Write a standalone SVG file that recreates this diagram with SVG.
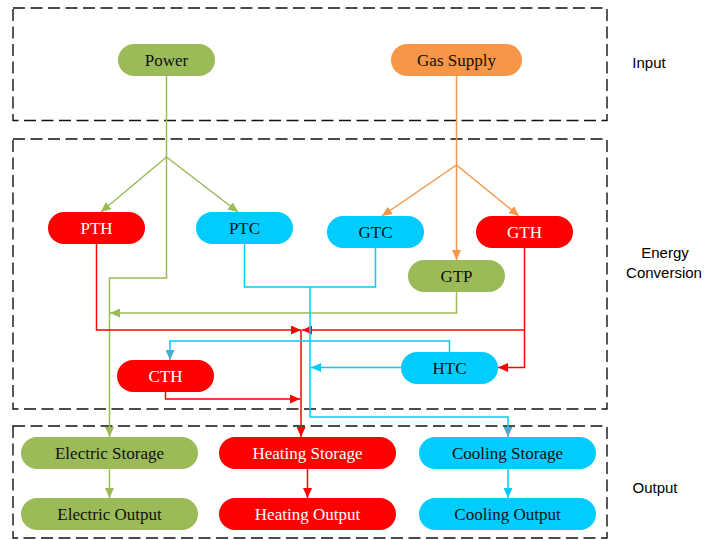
<svg xmlns="http://www.w3.org/2000/svg" width="706" height="540" viewBox="0 0 706 540">
<style>
.frame{fill:none;stroke:#111;stroke-width:1.4;stroke-dasharray:12 5.5}
.lbl{font-family:"Liberation Sans",Arial,sans-serif;font-size:15px;fill:#000}
.nt{font-family:"Liberation Serif","Times New Roman",serif;font-size:17px;text-anchor:middle}
.dk{fill:#111}
.wt{fill:#fff}
.g{fill:#9BBB59}
.o{fill:#F79646}
.r{fill:#FF0000}
.c{fill:#00CCFF}
.cn path{fill:none;stroke-width:1.5}
.lg{stroke:#9BBB59}
.lo{stroke:#F79646}
.lr{stroke:#FF0000}
.lc{stroke:#00CCFF}
</style>
<defs>
<marker id="ag" markerUnits="userSpaceOnUse" markerWidth="10" markerHeight="9" refX="10" refY="4.5" orient="auto"><path d="M0,0 L10,4.5 L0,9 z" fill="#9BBB59"/></marker>
<marker id="ao" markerUnits="userSpaceOnUse" markerWidth="10" markerHeight="9" refX="10" refY="4.5" orient="auto"><path d="M0,0 L10,4.5 L0,9 z" fill="#F79646"/></marker>
<marker id="ar" markerUnits="userSpaceOnUse" markerWidth="10" markerHeight="9" refX="10" refY="4.5" orient="auto"><path d="M0,0 L10,4.5 L0,9 z" fill="#FF0000"/></marker>
<marker id="ac" markerUnits="userSpaceOnUse" markerWidth="10" markerHeight="9" refX="10" refY="4.5" orient="auto"><path d="M0,0 L10,4.5 L0,9 z" fill="#00CCFF"/></marker>
<marker id="ad" markerUnits="userSpaceOnUse" markerWidth="10" markerHeight="9" refX="10" refY="4.5" orient="auto"><path d="M0,0 L10,4.5 L0,9 z" fill="#4BACC6"/></marker>
</defs>
<rect width="706" height="540" fill="#fff"/>
<g id="frames">
<rect class="frame" x="13" y="8" width="594" height="112.5"/>
<rect class="frame" x="13" y="139" width="594" height="270"/>
<rect class="frame" x="13" y="426" width="594" height="112"/>
<text class="lbl" x="649" y="67.5" text-anchor="middle">Input</text>
<text class="lbl" x="665" y="257.5" text-anchor="middle">Energy</text>
<text class="lbl" x="664" y="277.5" text-anchor="middle">Conversion</text>
<text class="lbl" x="655" y="492.5" text-anchor="middle">Output</text>
</g>
<g id="connectors" class="cn">
<path class="lg" d="M166.5,76 V157"/>
<path class="lg" d="M166.5,157 L101,212" marker-end="url(#ag)"/>
<path class="lg" d="M166.5,157 L238,212" marker-end="url(#ag)"/>
<path class="lg" d="M166.5,157 V278 H109.5 V437" marker-end="url(#ag)"/>
<path class="lg" d="M456.5,292 V313 H110" marker-end="url(#ag)"/>
<path class="lg" d="M109.5,469 V498" marker-end="url(#ag)"/>
<path class="lo" d="M456.5,76 V165"/>
<path class="lo" d="M456.5,165 L382,216" marker-end="url(#ao)"/>
<path class="lo" d="M456.5,165 L519,216" marker-end="url(#ao)"/>
<path class="lo" d="M456.5,165 V260" marker-end="url(#ao)"/>
<path class="lr" d="M96.5,244 V330 H301" marker-end="url(#ar)"/>
<path class="lr" d="M524.5,248 V367.5 H498" marker-end="url(#ar)"/>
<path class="lr" d="M524.5,330 H302" marker-end="url(#ar)"/>
<path class="lr" d="M165.5,392 V399 H300" marker-end="url(#ar)"/>
<path class="lr" d="M301,330 V437" marker-end="url(#ar)"/>
<path class="lr" d="M307.5,469 V498" marker-end="url(#ar)"/>
<path class="lc" d="M244.5,244 V287 H310"/>
<path class="lc" d="M375.5,248 V287 H310"/>
<path class="lc" d="M310,287 V417 H508 V437" marker-end="url(#ad)"/>
<path class="lc" d="M449.5,352 V341 H170 V360" marker-end="url(#ad)"/>
<path class="lc" d="M401,367.5 H311" marker-end="url(#ac)"/>
<path class="lc" d="M508,469 V498" marker-end="url(#ac)"/>
</g>
<g id="power"><rect class="g" x="118" y="44" width="97" height="32" rx="16"/><text class="nt dk" x="166.5" y="66">Power</text></g>
<g id="gas-supply"><rect class="o" x="391" y="44" width="131" height="32" rx="16"/><text class="nt dk" x="456.5" y="66">Gas Supply</text></g>
<g id="pth"><rect class="r" x="48" y="212" width="97" height="32" rx="16"/><text class="nt wt" x="96.5" y="234">PTH</text></g>
<g id="ptc"><rect class="c" x="196" y="212" width="97" height="32" rx="16"/><text class="nt dk" x="244.5" y="234">PTC</text></g>
<g id="gtc"><rect class="c" x="327" y="216" width="97" height="32" rx="16"/><text class="nt dk" x="375.5" y="238">GTC</text></g>
<g id="gth"><rect class="r" x="476" y="216" width="97" height="32" rx="16"/><text class="nt wt" x="524.5" y="238">GTH</text></g>
<g id="gtp"><rect class="g" x="408" y="260" width="97" height="32" rx="16"/><text class="nt dk" x="456.5" y="282">GTP</text></g>
<g id="htc"><rect class="c" x="401" y="352" width="97" height="32" rx="16"/><text class="nt dk" x="449.5" y="374">HTC</text></g>
<g id="cth"><rect class="r" x="117" y="360" width="97" height="32" rx="16"/><text class="nt wt" x="165.5" y="382">CTH</text></g>
<g id="electric-storage"><rect class="g" x="21" y="437" width="177" height="32" rx="16"/><text class="nt dk" x="109.5" y="459">Electric Storage</text></g>
<g id="heating-storage"><rect class="r" x="219" y="437" width="177" height="32" rx="16"/><text class="nt wt" x="307.5" y="459">Heating Storage</text></g>
<g id="cooling-storage"><rect class="c" x="419" y="437" width="177" height="32" rx="16"/><text class="nt dk" x="507.5" y="459">Cooling Storage</text></g>
<g id="electric-output"><rect class="g" x="21" y="498" width="177" height="32" rx="16"/><text class="nt dk" x="109.5" y="520">Electric Output</text></g>
<g id="heating-output"><rect class="r" x="219" y="498" width="177" height="32" rx="16"/><text class="nt wt" x="307.5" y="520">Heating Output</text></g>
<g id="cooling-output"><rect class="c" x="419" y="498" width="177" height="32" rx="16"/><text class="nt dk" x="507.5" y="520">Cooling Output</text></g>
</svg>
